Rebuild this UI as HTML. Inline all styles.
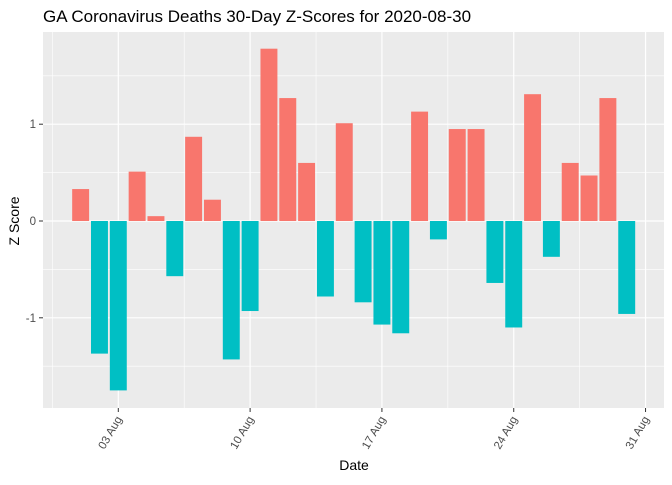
<!DOCTYPE html>
<html><head><meta charset="utf-8"><style>
body{margin:0;background:#fff;width:672px;height:480px;overflow:hidden}
text{font-family:"Liberation Sans",Arial,sans-serif}
</style></head><body>
<svg id="chart" width="672" height="480">
<text x="43" y="22" font-size="17" fill="#000">GA Coronavirus Deaths 30-Day Z-Scores for 2020-08-30</text>
<rect x="43" y="32" width="621" height="376" fill="#ebebeb"/>
<g id="grid"></g><g id="bars"></g><g id="axes"></g>
<text x="354" y="470" font-size="14" text-anchor="middle">Date</text>
<text transform="translate(19,221) rotate(-90)" font-size="14" text-anchor="middle">Z Score</text>
</svg>
<script>
const days=[1,2,3,4,5,6,7,8,9,10,11,12,13,14,15,16,17,18,19,20,21,22,23,24,25,26,27,28,29,30];
const zscores=[0.33,-1.37,-1.75,0.51,0.05,-0.57,0.87,0.22,-1.43,-0.93,1.78,1.27,0.60,-0.78,1.01,-0.84,-1.07,-1.16,1.13,-0.19,0.95,0.95,-0.64,-1.10,1.31,-0.37,0.60,0.47,1.27,-0.96];
const xTickDays=[3,10,17,24,31];
const xTickLabels=["03 Aug","10 Aug","17 Aug","24 Aug","31 Aug"];
const yTicks=[-1,0,1];
const yTickLabels=["-1","0","1"];
const NS="http://www.w3.org/2000/svg";
const x=d=>118.3+(d-3)*18.83;
const y=v=>221-v*96.8;
const L=43,R=664,T=32,B=408;
function mk(tag,attrs,parent){const e=document.createElementNS(NS,tag);for(const k in attrs)e.setAttribute(k,attrs[k]);document.getElementById(parent).appendChild(e);return e;}
// minor grid
for(const v of [-1.5,-0.5,0.5,1.5]){const e=mk('line',{x1:L,x2:R,y1:y(v),y2:y(v),stroke:'#fff','stroke-width':0.6},'grid');

}
for(const d of [-0.5,6.5,13.5,20.5,27.5]){const e=mk('line',{x1:x(d),x2:x(d),y1:T,y2:B,stroke:'#fff','stroke-width':0.6},'grid');

}
yTicks.forEach((v,i)=>{const e=mk('line',{x1:L,x2:R,y1:y(v),y2:y(v),stroke:'#fff','stroke-width':1.2},'grid');


const t=mk('line',{x1:L-4,x2:L,y1:y(v),y2:y(v),stroke:'#333','stroke-width':1},'axes');


const l=mk('text',{x:L-7,y:y(v)+4,'font-size':11.5,fill:'#4d4d4d','text-anchor':'end'},'axes');l.textContent=yTickLabels[i];

});
xTickDays.forEach((d,i)=>{const e=mk('line',{x1:x(d),x2:x(d),y1:T,y2:B,stroke:'#fff','stroke-width':1.2},'grid');


const t=mk('line',{x1:x(d),x2:x(d),y1:B,y2:B+4,stroke:'#333','stroke-width':1},'axes');


const l=mk('text',{transform:`translate(${x(d)+4},${B+11}) rotate(-60)`,'font-size':11.5,fill:'#4d4d4d','text-anchor':'end'},'axes');l.textContent=xTickLabels[i];

});
days.forEach((d,i)=>{const v=zscores[i];const w=0.9*18.83;
const r=mk('rect',{x:x(d)-w/2,width:w,y:Math.min(y(v),y(0)),height:Math.abs(y(v)-y(0)),fill:v>=0?'#f8766d':'#00bfc4'},'bars');

});
</script>
</body></html>
